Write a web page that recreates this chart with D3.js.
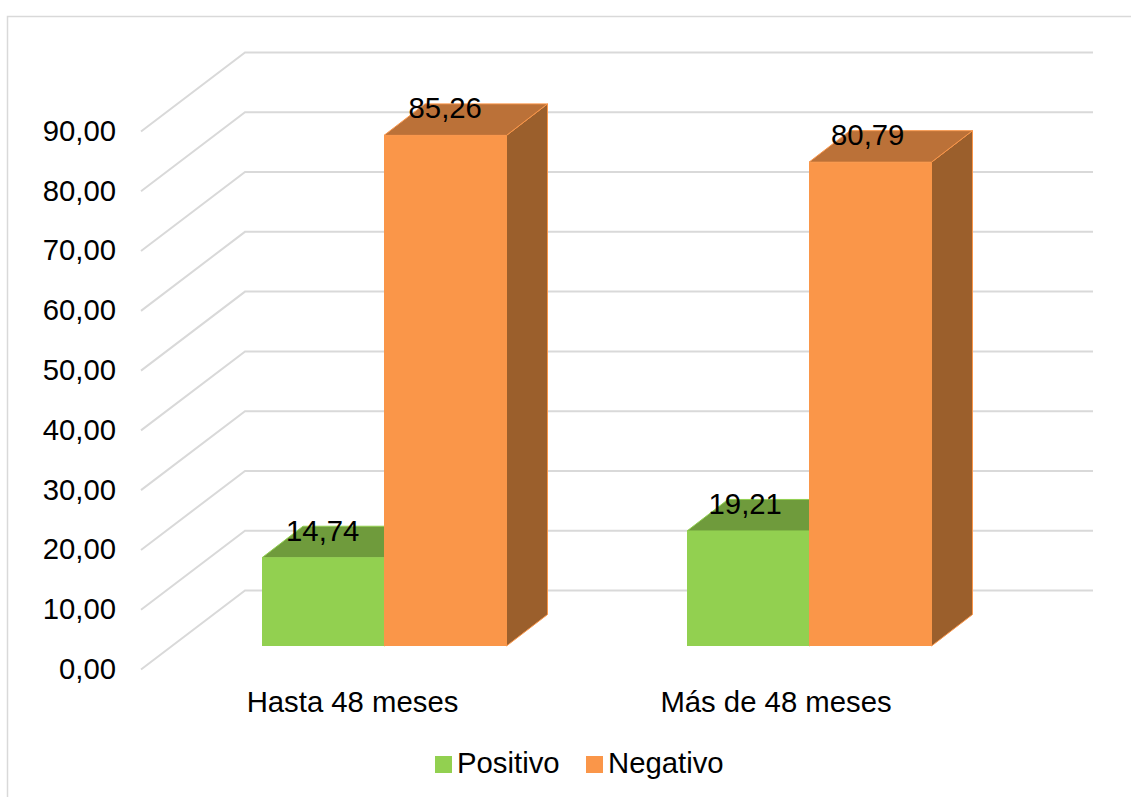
<!DOCTYPE html>
<html>
<head>
<meta charset="utf-8">
<script src="https://cdnjs.cloudflare.com/ajax/libs/d3/7.8.5/d3.min.js"></script>
<style>
  html, body { margin: 0; padding: 0; background: #fff; }
  svg { display: block; }
  text { font-family: "Liberation Sans", Arial, sans-serif; fill: #000; }
</style>
</head>
<body>
<svg id="chart" width="1131" height="797"></svg>
<script>
// Chart values
const categories = ["Hasta 48 meses", "Más de 48 meses"];
const seriesNames = ["Positivo", "Negativo"];
const positivo = [14.74, 19.21];
const negativo = [85.26, 80.79];
const tickValues = [0, 10, 20, 30, 40, 50, 60, 70, 80, 90];

// Shades for the front, top and side of each 3D column
const palette = {
  Positivo: { front: "#92d050", top: "#6f9b3c", side: "#6f9b3c", edge: "#92d050" },
  Negativo: { front: "#fa9649", top: "#bb7138", side: "#9b5f2c", edge: "#fa9649" }
};

const fontSize = 29.3;
const svg = d3.select("#chart");
const fmt = v => v.toFixed(2).replace(".", ",");

// Outer frame: only its top and left edges fall inside the page
svg.append("path")
  .attr("d", "M7.5,797V16.5H1131")
  .attr("fill", "none").attr("stroke", "#d9d9d9").attr("stroke-width", 1.5);

// Oblique projection: walls sit back from the front plane of the axis
const wallOffset = { dx: 104, dy: -79 };
const barDepth = { dx: 41, dy: -31.5 };
const yFront = d3.scaleLinear().domain([0, 90]).range([669.5, 131.5]);
const yBar = d3.scaleLinear().domain([0, 90]).range([646, 107]);
const wallRight = 1093;
const frontLeft = 141;

// Gridlines run across the floor diagonal and then along the back wall
svg.append("g").selectAll("path")
  .data(tickValues)
  .join("path")
  .attr("d", v => {
    const p = d3.path();
    p.moveTo(frontLeft, yFront(v));
    p.lineTo(frontLeft + wallOffset.dx, yFront(v) + wallOffset.dy);
    p.lineTo(wallRight, yFront(v) + wallOffset.dy);
    return p.toString();
  })
  .attr("fill", "none").attr("stroke", "#d9d9d9").attr("stroke-width", 2);

// Value axis labels
const yAxis = d3.axisLeft(yFront).tickValues(tickValues).tickFormat(fmt).tickSize(0).tickPadding(0);
const axisG = svg.append("g").attr("transform", "translate(116,-0.5)").call(yAxis);
axisG.select(".domain").remove();
axisG.selectAll("text")
  .style("font-family", '"Liberation Sans", Arial, sans-serif')
  .style("font-size", fontSize + "px")
  .attr("fill", "#000");

// Category and series positions
const x0 = d3.scaleBand().domain(categories).range([172, 1022]);
const x1 = d3.scaleBand().domain(seriesNames).range([90, 335]);
const valuesBySeries = { Positivo: positivo, Negativo: negativo };

// Columns: side and top faces, then the front face, one series after the other
seriesNames.forEach(name => {
  const c = palette[name];
  categories.forEach((cat, i) => {
    const v = valuesBySeries[name][i];
    const l = x0(cat) + x1(name) - (name === "Negativo" ? 0.5 : 0);
    const r = l + x1.bandwidth();
    const t = yBar(v);
    const b = yBar(0);
    const { dx, dy } = barDepth;
    const g = svg.append("g").attr("class", "column");
    g.append("path")
      .attr("d", `M${r},${t}L${r + dx},${t + dy}V${b + dy}L${r},${b}Z`)
      .attr("fill", c.side).attr("stroke", c.edge).attr("stroke-width", 1);
    g.append("path")
      .attr("d", `M${l},${t}L${l + dx},${t + dy}H${r + dx}L${r},${t}Z`)
      .attr("fill", c.top).attr("stroke", c.edge).attr("stroke-width", 1);
    g.append("rect")
      .attr("x", l).attr("y", t)
      .attr("width", r - l).attr("height", b - t)
      .attr("fill", c.front);
  });
});

// Value labels sit slightly closer together than the columns they describe
const labelStep = -2.5;
seriesNames.forEach(name => {
  categories.forEach((cat, i) => {
    const v = valuesBySeries[name][i];
    svg.append("text")
      .attr("x", x0(cat) + x1(name) + x1.bandwidth() / 2 + i * labelStep - 0.5)
      .attr("y", yBar(v) - 17)
      .attr("text-anchor", "middle")
      .attr("font-size", fontSize)
      .text(fmt(v));
  });
});

// Category labels
svg.append("g").selectAll("text")
  .data(categories)
  .join("text")
  .attr("x", (d, i) => x0(d) + x0.bandwidth() / 2 - 32 + i * -1.5)
  .attr("y", 711.5)
  .attr("text-anchor", "middle")
  .attr("font-size", fontSize)
  .text(d => d);

// Legend
const legendX = d3.scaleOrdinal().domain(seriesNames).range([435, 586]);
const legend = svg.append("g").selectAll("g")
  .data(seriesNames)
  .join("g")
  .attr("transform", d => `translate(${legendX(d)},756)`);
legend.append("rect")
  .attr("width", 17).attr("height", 17)
  .attr("fill", d => palette[d].front);
legend.append("text")
  .attr("x", 22).attr("y", 17)
  .attr("font-size", fontSize)
  .text(d => d);
</script>
</body>
</html>
